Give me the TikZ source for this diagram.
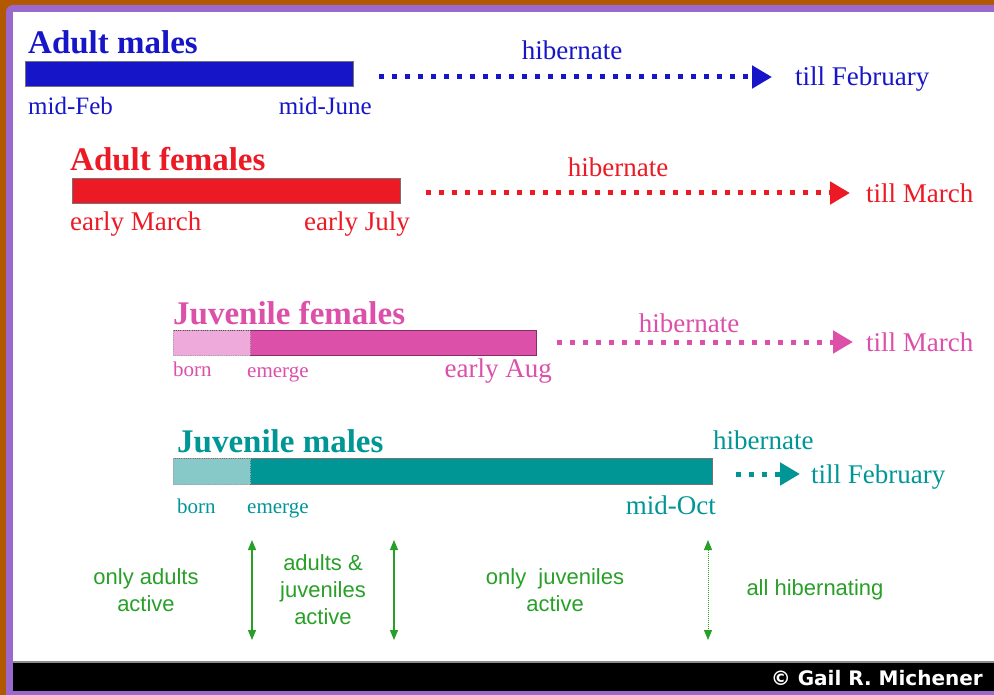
\documentclass[tikz,border=0pt]{standalone}
\usepackage{fontspec}
\setmainfont{Liberation Serif}
\setsansfont{Liberation Sans}
\newfontfamily\copyfont{DejaVu Sans}
\usetikzlibrary{arrows.meta}
\definecolor{frameBrown}{RGB}{178,88,0}
\definecolor{framePurple}{RGB}{155,105,205}
\definecolor{amBlue}{RGB}{22,22,200}
\definecolor{afRed}{RGB}{236,26,36}
\definecolor{jfPink}{RGB}{220,80,170}
\definecolor{jfLight}{RGB}{238,170,218}
\definecolor{jmTeal}{RGB}{0,150,150}
\definecolor{jmLight}{RGB}{135,200,200}
\definecolor{noteGreen}{RGB}{40,160,40}
\begin{document}
\begin{tikzpicture}[x=1pt, y=-1pt, every node/.style={inner sep=0pt},
  title/.style={anchor=base west, font=\fontsize{33}{36}\selectfont\bfseries},
  lbl/.style={anchor=base west, font=\fontsize{27}{30}\selectfont},
  small/.style={anchor=base west, font=\fontsize{21}{24}\selectfont},
  bar/.style={draw=black!55, line width=0.8pt, minimum height=25pt, anchor=west},
  hib/.style={line width=5pt, dash pattern=on 5pt off 8pt, -{Triangle[length=20pt,width=22pt]}},
  note/.style={align=center, text=noteGreen, font=\sffamily\fontsize{22}{27}\selectfont},
  span/.style={noteGreen, line width=1.2pt, {Triangle[length=10pt,width=8pt]}-{Triangle[length=10pt,width=8pt]}}]
  \useasboundingbox (0,0) rectangle (994,695);
  \fill[frameBrown] (0,0) rectangle (994,695);
  \fill[framePurple, rounded corners=7pt] (6,5) rectangle (1010,710);
  \fill[white] (13,12) rectangle (994,662);
  \fill[black!45] (13,661) rectangle (994,663);
  \fill[black] (13,663) rectangle (994,691);

  \node[title, text=amBlue] (amTitle) at (28,54) {Adult males};
  \node[bar, fill=amBlue, minimum width=328pt] (amBar) at (25,73.5) {};
  \node[lbl, text=amBlue, font=\fontsize{25}{28}\selectfont] (amStart) at (28,115) {mid-Feb};
  \node[lbl, text=amBlue, anchor=base east, font=\fontsize{25}{28}\selectfont] (amEnd) at (372,115) {mid-June};
  \node[lbl, text=amBlue, anchor=base] (amHib) at (572,60) {hibernate};
  \node[lbl, text=amBlue] (amTill) at (795,86) {till February};
  \path (amBar.east) ++(25,3.5) coordinate (amFrom);
  \draw[hib, amBlue, shorten >=23pt] (amFrom) -- (amFrom -| amTill.west);

  \node[title, text=afRed] (afTitle) at (70,171) {Adult females};
  \node[bar, fill=afRed, minimum width=328pt] (afBar) at (72,190.5) {};
  \node[lbl, text=afRed] (afStart) at (70,231) {early March};
  \node[lbl, text=afRed, anchor=base east] (afEnd) at (410,231) {early July};
  \node[lbl, text=afRed, anchor=base] (afHib) at (618,177) {hibernate};
  \node[lbl, text=afRed] (afTill) at (866,203) {till March};
  \path (afBar.east) ++(25,2.5) coordinate (afFrom);
  \draw[hib, afRed, shorten >=16pt] (afFrom) -- (afFrom -| afTill.west);

  \node[title, text=jfPink] (jfTitle) at (173,324) {Juvenile females};
  \node[bar, fill=jfPink, draw=jfPink!60!black, minimum width=363pt] (jfBar) at (173,343) {};
  \node[bar, fill=jfLight, minimum width=77pt, draw=black!35, densely dotted] (jfYoung) at (173,343) {};
  \node[small, text=jfPink] (jfBorn) at (173,376) {born};
  \node[small, text=jfPink] (jfEmerge) at (247,377) {emerge};
  \node[lbl, text=jfPink, anchor=base east] (jfEnd) at (552,377) {early Aug};
  \node[lbl, text=jfPink, anchor=base] (jfHib) at (689,333) {hibernate};
  \node[lbl, text=jfPink] (jfTill) at (866,352) {till March};
  \path (jfBar.east) ++(20,-1) coordinate (jfFrom);
  \draw[hib, jfPink, shorten >=13pt] (jfFrom) -- (jfFrom -| jfTill.west);

  \node[title, text=jmTeal] (jmTitle) at (177,452) {Juvenile males};
  \node[bar, fill=jmTeal, minimum width=539pt, minimum height=26pt] (jmBar) at (173,471.5) {};
  \node[bar, fill=jmLight, minimum width=77pt, minimum height=26pt, draw=black!35, densely dotted] (jmYoung) at (173,471.5) {};
  \node[small, text=jmTeal] (jmBorn) at (177,513) {born};
  \node[small, text=jmTeal] (jmEmerge) at (247,513) {emerge};
  \node[lbl, text=jmTeal, anchor=base east] (jmEnd) at (716,514) {mid-Oct};
  \node[lbl, text=jmTeal] (jmHib) at (713,449) {hibernate};
  \node[lbl, text=jmTeal] (jmTill) at (811,483) {till February};
  \path (jmBar.east) ++(23,2.5) coordinate (jmFrom);
  \draw[hib, jmTeal, shorten >=11pt] (jmFrom) -- (jmFrom -| jmTill.west);

  \coordinate (s1t) at (252,540); \coordinate (s1b) at (252,640);
  \coordinate (s2t) at (394,540); \coordinate (s2b) at (394,640);
  \coordinate (s3t) at (708,540); \coordinate (s3b) at (708,640);
  \draw[span] (s1t) -- (s1b);
  \draw[span] (s2t) -- (s2b);
  \draw[span, line width=1pt, densely dotted] (s3t) -- (s3b);
  \node[note] (onlyAdults) at (146,590) {only adults\\active};
  \node[note] (bothActive) at (323,590) {adults \&\\juveniles\\active};
  \node[note] (onlyJuv) at (555,590) {only\ \ juveniles\\active};
  \node[note] (allHib) at (815,590) {all hibernating};

  \node[anchor=base east, text=white, font=\copyfont\fontsize{20}{24}\selectfont\bfseries] (credit) at (983,685) {© Gail R. Michener};
\end{tikzpicture}
\end{document}
